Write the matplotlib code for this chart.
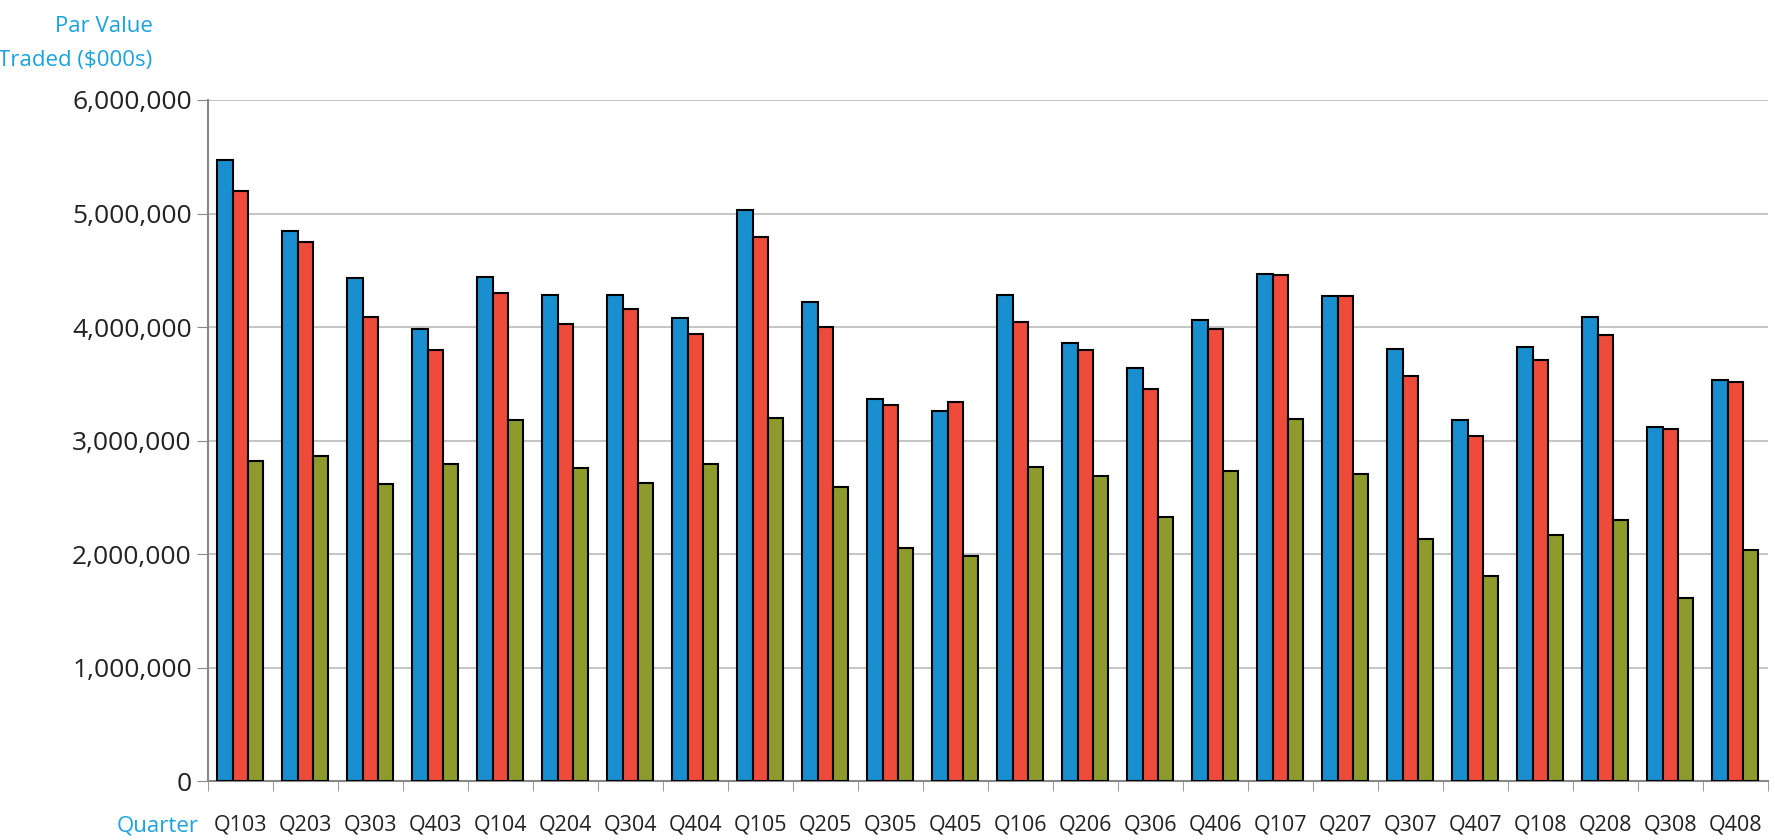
import numpy as np
import matplotlib.pyplot as plt

quarters = ["Q103","Q203","Q303","Q403","Q104","Q204","Q304","Q404","Q105","Q205","Q305","Q405",
            "Q106","Q206","Q306","Q406","Q107","Q207","Q307","Q407","Q108","Q208","Q308","Q408"]
blue = [5.47,4.85,4.43,3.98,4.44,4.28,4.28,4.08,5.03,4.22,3.37,3.26,
        4.28,3.86,3.64,4.06,4.47,4.27,3.81,3.18,3.82,4.09,3.12,3.53]
red = [5.20,4.75,4.09,3.80,4.30,4.03,4.16,3.94,4.79,4.00,3.31,3.34,
       4.04,3.80,3.45,3.98,4.46,4.27,3.57,3.04,3.71,3.93,3.10,3.52]
green = [2.82,2.86,2.62,2.79,3.18,2.76,2.63,2.79,3.20,2.59,2.05,1.98,
         2.77,2.69,2.33,2.73,3.19,2.71,2.13,1.81,2.17,2.30,1.61,2.04]

plt.rcParams['font.family'] = ['Open Sans', 'DejaVu Sans']
fig = plt.figure(figsize=(17.75, 8.4), dpi=100)
ax = fig.add_axes([0.117, 0.070, 0.879, 0.811])

x = np.arange(len(quarters))
w = 0.235
cols = ['#1a8fd0', '#ee4b3b', '#8f9a2c']
for i, (vals, c) in enumerate(zip([blue, red, green], cols)):
    ax.bar(x + (i - 1) * w, np.array(vals) * 1e6, w, color=c, edgecolor='black', linewidth=1.5, zorder=3)

ax.set_xlim(-0.5, len(quarters) - 0.5)
ax.set_ylim(0, 6e6)
ax.set_yticks(np.arange(0, 6.01e6, 1e6))
ax.set_yticklabels([f"{int(v):,}" for v in np.arange(0, 6.01e6, 1e6)], fontsize=19, color='#222222')
ax.grid(axis='y', color='#bbbbbb', linewidth=1.2, zorder=0)
ax.set_xticks(x)
ax.set_xticklabels(quarters, fontsize=15.5, color='#222222')
ax.set_xticks(np.arange(-0.5, len(quarters)), minor=True)
ax.tick_params(axis='x', which='major', length=0, pad=24)
ax.tick_params(axis='x', which='minor', length=7, color='#888888')
ax.tick_params(axis='y', length=8, color='#888888', direction='out')
for s in ['top', 'right']:
    ax.spines[s].set_visible(False)
ax.spines['left'].set_color('#888888')
ax.spines['bottom'].set_color('#888888')
ax.spines['left'].set_linewidth(1.5)
ax.spines['bottom'].set_linewidth(1.5)

fig.text(0.086, 0.968, "Par Value", color='#1aa3dc', fontsize=16, ha='right', va='center')
fig.text(0.086, 0.928, "Traded ($000s)", color='#1aa3dc', fontsize=16, ha='right', va='center')
fig.text(0.112, 0.017, "Quarter", color='#1aa3dc', fontsize=16, ha='right', va='center')

fig.savefig("out.png")
